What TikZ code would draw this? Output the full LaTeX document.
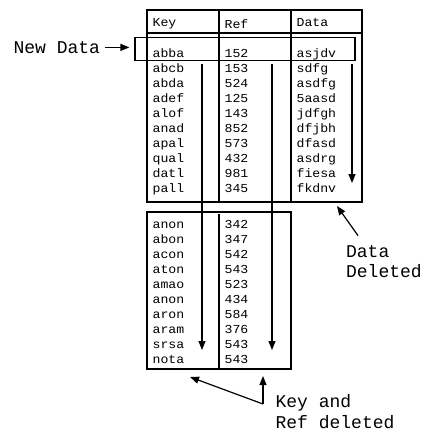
\documentclass[tikz,border=0pt]{standalone}
\usepackage{fontspec}
\setmainfont{Liberation Mono}
\newfontfamily\cellfont[FakeStretch=1.08]{Liberation Mono}
\usetikzlibrary{arrows.meta}
\usetikzlibrary{positioning}

\tikzset{
  cell/.style={anchor=base west,inner sep=0pt,font=\cellfont\fontsize{12.2}{15}\selectfont},
  note/.style={anchor=base west,inner sep=0pt,align=left,font=\fontsize{18}{20.5}\selectfont},
  arr/.style={-{Triangle[length=9pt,width=7pt]}},
}

\begin{document}
\begin{tikzpicture}[x=1pt,y=-1pt,line width=1.2pt]
\useasboundingbox (0,0) rectangle (422,437);

% upper table
\draw (147,10) rectangle (362,202);
\draw (147,33) -- (362,33);
\draw (219,10) -- (219,202);
\draw (291,10) -- (291,202);
\node[cell] (hk) at (152,26.7) {Key};
\node[cell] (hr) at (224,28) {Ref};
\node[cell] (hd) at (296,26.7) {Data};
\foreach \k/\r/\d [count=\i] in {abba/152/asjdv,abcb/153/sdfg,abda/524/asdfg,adef/125/5aasd,alof/143/jdfgh,anad/852/dfjbh,apal/573/dfasd,qual/432/asdrg,datl/981/fiesa,pall/345/fkdnv}{
  \node[cell] (k\i) at (152,42.3+15*\i) {\k};
  \node[cell] (r\i) at (224,42.3+15*\i) {\r};
  \node[cell] (d\i) at (296,42.3+15*\i) {\d};
}

% lower table
\draw (147,212) rectangle (291,369);
\draw (219,214) -- (219,369);
\foreach \k/\r [count=\i] in {anon/342,abon/347,acon/542,aton/543,amao/523,anon/434,aron/584,aram/376,srsa/543,nota/543}{
  \node[cell] (lk\i) at (152,213.3+15*\i) {\k};
  \node[cell] (lr\i) at (224,213.3+15*\i) {\r};
}

% new row box
\node[draw,inner sep=0pt,minimum width=220pt,minimum height=23pt] (nb) at (245,49.2) {};

% column arrows
\draw[arr] (202,64) -- (202,350);
\draw[arr] (272,64) -- (272,350);
\draw[arr] (352,64) -- (352,183);

% labels
\node[note] (nd) at (13,53.3) {New Data};
\draw[arr,shorten <=4pt,shorten >=5pt] (nd.east) -- (nd.east -| nb.west);

\node[note] (dd) at (345.5,277.7) {Data\\Deleted};
\coordinate (ddtip) at (337,206);
\draw[arr] ([xshift=12.5pt,yshift=9pt]dd.north west) -- (ddtip);

\node[note] (kr) at (275,428) {Key and\\Ref deleted};
\coordinate (krs) at (263,404);
\coordinate (ktip) at (190,377);
\coordinate (rtip) at (263,376);
\draw[arr] (krs) -- (ktip);
\draw[arr] (krs) -- (rtip);

\end{tikzpicture}
\end{document}
